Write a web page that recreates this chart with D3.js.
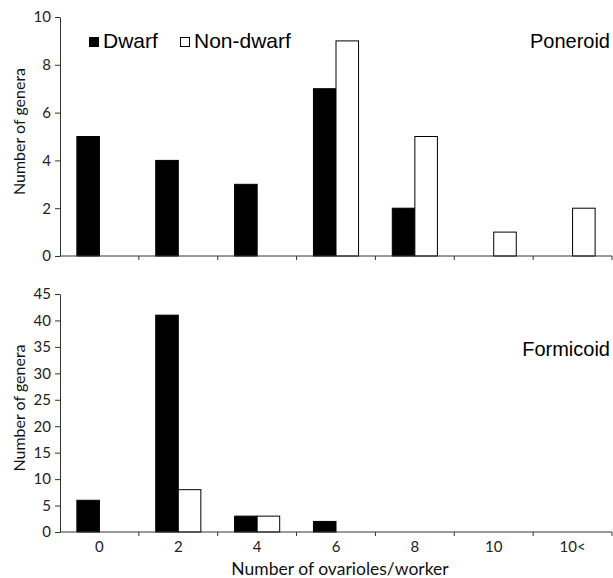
<!DOCTYPE html>
<html>
<head>
<meta charset="utf-8">
<script src="https://cdn.jsdelivr.net/npm/d3@7"></script>
<style>
  body { margin: 0; background: #fff; }
  .tick text { font-family: Lato, "Open Sans", sans-serif; font-size: 15px; fill: #222; }
  .axis path, .axis line { stroke: #333; }
</style>
</head>
<body>
<div id="chart"></div>
<script>
'use strict';

// Data =======================
var categories = ['0', '2', '4', '6', '8', '10', '10<'];
var seriesNames = ['Dwarf', 'Non-dwarf'];

// Poneroid (top panel)
var poneroidDwarf = [5, 4, 3, 7, 2, 0, 0];
var poneroidNonDwarf = [0, 0, 0, 9, 5, 1, 2];

// Formicoid (bottom panel)
var formicoidDwarf = [6, 41, 3, 2, 0, 0, 0];
var formicoidNonDwarf = [0, 8, 3, 0, 0, 0, 0];

var poneroidTicks = [0, 2, 4, 6, 8, 10];
var formicoidTicks = [0, 5, 10, 15, 20, 25, 30, 35, 40, 45];

// Sizing =======================
var width = 613, height = 578;
var left = 60, right = 612;

var svg = d3.select('#chart').append('svg')
  .attr('width', width)
  .attr('height', height);

var x = d3.scaleBand().domain(categories).range([left, right]).paddingInner(0).paddingOuter(0);
var barW = x.bandwidth() * 0.286;
var fills = ['#000', '#fff'];

function drawPanel(dwarf, nonDwarf, yMax, ticks, top, bottom, label, labelY, showLabels) {
  var y = d3.scaleLinear().domain([0, yMax]).range([bottom, top]);
  var g = svg.append('g');

  // bars
  [dwarf, nonDwarf].forEach(function (vals, s) {
    g.selectAll('rect.s' + s)
      .data(vals.map(function (v, i) { return { c: categories[i], v: v }; }).filter(function (d) { return d.v > 0; }))
      .enter().append('rect')
      .attr('x', function (d) { return x(d.c) + x.bandwidth() / 2 - barW + s * barW; })
      .attr('y', function (d) { return y(d.v); })
      .attr('width', barW)
      .attr('height', function (d) { return y(0) - y(d.v); })
      .attr('fill', fills[s])
      .attr('stroke', '#000')
      .attr('stroke-width', 1);
  });

  // y axis
  var yAxis = g.append('g').attr('class', 'axis')
    .attr('transform', 'translate(' + left + ',0)')
    .call(d3.axisLeft(y).tickValues(ticks).tickSize(5).tickSizeOuter(0));
  yAxis.selectAll('text').attr('x', -9);

  // x axis: ticks at category boundaries
  var xg = g.append('g').attr('class', 'axis').attr('transform', 'translate(0,' + bottom + ')');
  xg.append('line').attr('x1', left).attr('x2', right).attr('y1', 0).attr('y2', 0).attr('stroke', '#333');
  xg.selectAll('line.b')
    .data(categories.slice(1).concat(['end']))
    .enter().append('line')
    .attr('x1', function (d) { return d === 'end' ? right : x(d); })
    .attr('x2', function (d) { return d === 'end' ? right : x(d); })
    .attr('y1', 0).attr('y2', 4)
    .attr('stroke', '#333');
  if (showLabels) {
    xg.selectAll('text.c')
      .data(categories)
      .enter().append('text')
      .attr('class', 'c')
      .attr('x', function (d) { return x(d) + x.bandwidth() / 2; })
      .attr('y', 20)
      .attr('text-anchor', 'middle')
      .style('font-family', 'Lato, "Open Sans", sans-serif')
      .style('font-size', '15px')
      .style('fill', '#222')
      .text(function (d) { return d; });
  }

  // y title
  g.append('text')
    .attr('transform', 'translate(25,' + ((top + bottom) / 2 - 5) + ') rotate(-90)')
    .attr('text-anchor', 'middle')
    .style('font-family', 'Lato, "Open Sans", sans-serif')
    .style('font-size', '16px')
    .style('fill', '#111')
    .text('Number of genera');

  // panel label
  g.append('text')
    .attr('x', 610)
    .attr('y', labelY)
    .attr('text-anchor', 'end')
    .style('font-family', '"Liberation Sans", Arial, sans-serif')
    .style('font-size', '20px')
    .style('fill', '#000')
    .text(label);
}

drawPanel(poneroidDwarf, poneroidNonDwarf, 10, poneroidTicks, 17, 256, 'Poneroid', 48, false);
drawPanel(formicoidDwarf, formicoidNonDwarf, 45, formicoidTicks, 294, 532, 'Formicoid', 356, true);

// x title
svg.append('text')
  .attr('x', 340)
  .attr('y', 575)
  .attr('text-anchor', 'middle')
  .style('font-family', 'Lato, "Open Sans", sans-serif')
  .style('font-size', '17.5px')
  .style('fill', '#111')
  .text('Number of ovarioles/worker');

// legend
var legend = svg.append('g');
var legendX = [89, 180];
seriesNames.forEach(function (name, i) {
  legend.append('rect')
    .attr('x', legendX[i] + 0.5).attr('y', 37.5)
    .attr('width', 9).attr('height', 9)
    .attr('fill', fills[i]).attr('stroke', '#000');
  legend.append('text')
    .attr('x', legendX[i] + 14)
    .attr('y', 48)
    .style('font-family', '"Liberation Sans", Arial, sans-serif')
    .style('font-size', '21px')
    .style('fill', '#000')
    .text(name);
});
</script>
</body>
</html>
